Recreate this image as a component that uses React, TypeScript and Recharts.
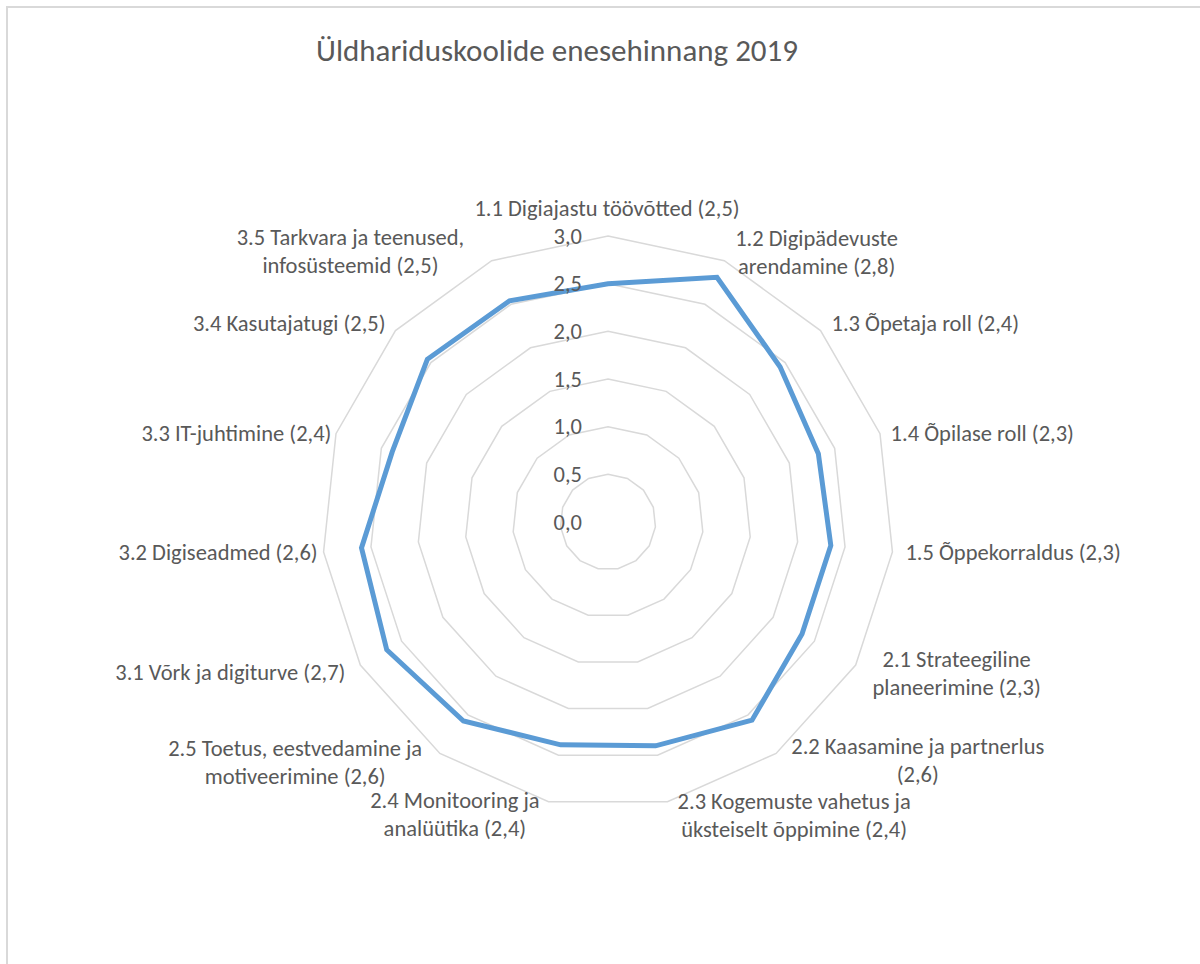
import { PolarAngleAxis, PolarGrid, PolarRadiusAxis, Radar, RadarChart } from "recharts"

const FONT = "Carlito, Lato, 'Open Sans', sans-serif"
const TEXT = "#595959"
const GRID = "#d9d9d9"

const categoryLines: string[][] = [
  ["1.1 Digiajastu töövõtted (2,5)"],
  ["1.2 Digipädevuste", "arendamine (2,8)"],
  ["1.3 Õpetaja roll (2,4)"],
  ["1.4 Õpilase roll (2,3)"],
  ["1.5 Õppekorraldus (2,3)"],
  ["2.1 Strateegiline", "planeerimine (2,3)"],
  ["2.2 Kaasamine ja partnerlus", "(2,6)"],
  ["2.3 Kogemuste vahetus ja", "üksteiselt õppimine (2,4)"],
  ["2.4 Monitooring ja", "analüütika (2,4)"],
  ["2.5 Toetus, eestvedamine ja", "motiveerimine (2,6)"],
  ["3.1 Võrk ja digiturve (2,7)"],
  ["3.2 Digiseadmed (2,6)"],
  ["3.3 IT-juhtimine (2,4)"],
  ["3.4 Kasutajatugi (2,5)"],
  ["3.5 Tarkvara ja teenused,", "infosüsteemid (2,5)"],
]

const scores = [2.5, 2.81, 2.43, 2.32, 2.35, 2.35, 2.57, 2.4, 2.39, 2.58, 2.68, 2.6, 2.38, 2.55, 2.54]

const radiusTicks = [0, 0.5, 1, 1.5, 2, 2.5, 3]

const categories = categoryLines.map((l) => l.join(" "))
const data = categories.map((c, i) => ({ c, v: scores[i] }))

// label placement relative to the tick point recharts gives
const labelPos: { anchor: "start" | "middle" | "end"; dx: number; dy: number }[] = [
  { anchor: "middle", dx: -1, dy: -20 },
  { anchor: "middle", dx: 89, dy: -1 },
  { anchor: "start", dx: 5, dy: -2 },
  { anchor: "start", dx: 3, dy: 2 },
  { anchor: "start", dx: 5, dy: 0 },
  { anchor: "middle", dx: 94, dy: 4 },
  { anchor: "middle", dx: 137, dy: 1 },
  { anchor: "middle", dx: 125, dy: 6 },
  { anchor: "middle", dx: -92, dy: 5 },
  { anchor: "middle", dx: -140, dy: 3 },
  { anchor: "end", dx: -8, dy: 3 },
  { anchor: "end", dx: 2, dy: 0 },
  { anchor: "end", dx: 3, dy: 2 },
  { anchor: "end", dx: -4, dy: -2 },
  { anchor: "middle", dx: -138, dy: -2 },
]

function AngleTick(props: any) {
  const { x, y, payload } = props
  const i = categories.indexOf(payload.value)
  const lines = categoryLines[i] || [String(payload.value)]
  const p = labelPos[i] || { anchor: "middle", dx: 0, dy: 0 }
  const lh = 28
  const top = y + p.dy - ((lines.length - 1) * lh) / 2
  return (
    <text textAnchor={p.anchor} fill={TEXT} fontSize={22.5} fontFamily={FONT}>
      {lines.map((l, k) => (
        <tspan key={k} x={x + p.dx} y={top + k * lh} dominantBaseline="central">
          {l}
        </tspan>
      ))}
    </text>
  )
}

function RadiusTick(props: any) {
  const { x, y, payload } = props
  return (
    <text x={x - 26} y={y} textAnchor="end" dominantBaseline="central" fill={TEXT} fontSize={22.5} fontFamily={FONT}>
      {Number(payload.value).toFixed(1).replace(".", ",")}
    </text>
  )
}

export default function App() {
  return (
    <div style={{ position: "absolute", left: 0, top: 0, width: 1200, height: 964, overflow: "hidden", background: "#fff" }}>
      <div
        style={{
          position: "absolute",
          left: 6,
          top: 6,
          width: 1300,
          height: 1100,
          borderLeft: `2px solid ${GRID}`,
          borderTop: `2px solid ${GRID}`,
        }}
      />
      <div
        style={{
          position: "absolute",
          left: 0,
          top: 32,
          width: 1114,
          textAlign: "center",
          fontFamily: FONT,
          fontSize: 31,
          lineHeight: "36px",
          color: TEXT,
        }}
      >
        Üldhariduskoolide enesehinnang 2019
      </div>
      <div style={{ position: "absolute", left: 0, top: 0 }}>
        <RadarChart width={1200} height={964} data={data} cx={608} cy={522} outerRadius={286} margin={{ top: 0, right: 0, bottom: 0, left: 0 }}>
          <PolarGrid gridType="polygon" radialLines={false} stroke={GRID} strokeWidth={1.5} />
          <PolarAngleAxis dataKey="c" tick={<AngleTick />} tickLine={false} axisLine={false} />
          <PolarRadiusAxis
            angle={90}
            domain={[0, 3]}
            ticks={radiusTicks}
            tick={<RadiusTick />}
            axisLine={false}
            tickLine={false}
          />
          <Radar dataKey="v" stroke="#5b9bd5" strokeWidth={5} fill="none" fillOpacity={0} dot={false} isAnimationActive={false} />
        </RadarChart>
      </div>
    </div>
  )
}
